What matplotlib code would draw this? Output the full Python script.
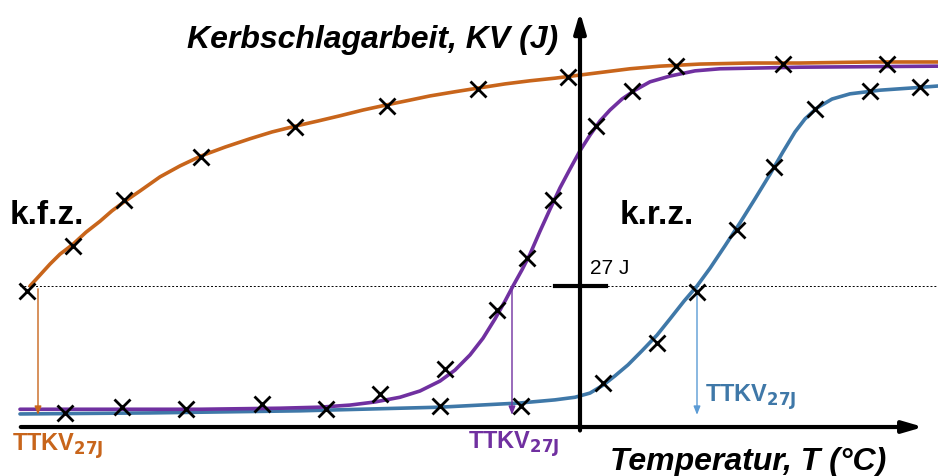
import numpy as np
import matplotlib
matplotlib.use("Agg")
import matplotlib.pyplot as plt

plt.rcParams['font.family'] = ['Liberation Sans', 'DejaVu Sans']
plt.rcParams['mathtext.fontset'] = 'custom'
plt.rcParams['mathtext.rm'] = 'Liberation Sans Narrow'
plt.rcParams['mathtext.bf'] = 'Liberation Sans Narrow:bold'

# measured points (T in deg C, KV in J)
kfz_T = [-276.5, -253.5, -228, -189.5, -142.5, -96.5, -51, -6, 48, 101.5, 153.5]
kfz_KV = [26.0, 34.7, 43.5, 51.7, 57.4, 61.5, 64.7, 67.0, 69.1, 69.5, 69.5]
mid_T = [-257.5, -229, -197, -159, -127, -100, -67.5, -41.5, -26.5, -13.5, 8, 26]
mid_KV = [2.7, 3.8, 3.4, 4.4, 3.4, 6.3, 11.1, 22.4, 32.4, 43.5, 57.6, 64.3]
krz_T = [-70, -29.5, 11.5, 38.5, 58.5, 78.5, 97, 117.5, 145, 170]
krz_KV = [4.0, 4.0, 8.4, 16.1, 25.9, 37.7, 49.8, 60.9, 64.3, 65.1]

# fitted curves
kfz_curve_T = [-275, -270, -265, -260, -253.5, -247, -240, -234, -228, -220, -210, -200,
               -189.5, -177.5, -165, -154, -142.5, -131, -120, -108.5, -96.5, -85, -75,
               -62.5, -51, -37.5, -25, -12.5, 0, 12.5, 25, 40, 60, 85, 110, 145, 179]
kfz_curve_KV = [27.0, 29.1, 31.2, 33.1, 35.0, 37.3, 39.4, 41.4, 43.1, 45.2, 47.9, 50.0,
                51.9, 53.6, 55.2, 56.5, 57.6, 58.6, 59.6, 60.7, 61.7, 62.6, 63.4,
                64.2, 64.9, 65.7, 66.3, 66.8, 67.4, 68.0, 68.6, 69.1, 69.5, 69.7, 69.7, 69.9, 69.9]
mid_curve_T = [-280, -240, -190, -150, -130, -115, -102.5, -90, -80, -70, -62.5, -55,
               -48.5, -42.5, -37.5, -33.5, -29, -25, -20, -15, -10, -5, 0, 5, 10, 15,
               21, 27.5, 35, 45, 57.5, 70, 110, 179]
mid_curve_KV = [3.4, 3.4, 3.4, 3.6, 3.8, 4.2, 4.8, 5.7, 6.9, 8.8, 10.9, 13.8,
                17.0, 20.7, 24.1, 27.0, 30.1, 33.1, 37.5, 41.7, 45.8, 49.4, 52.9, 55.9, 58.6, 60.7,
                62.8, 64.5, 66.1, 67.2, 68.2, 68.6, 68.9, 69.1]
krz_curve_T = [-280, -215, -140, -70, -30, -12.5, -2.5, 5, 11.5, 17.5, 24, 31, 38.5, 45,
               52, 58.5, 65, 72.5, 80, 87.5, 95, 101.5, 107.5, 112.5, 118.5, 126, 135,
               150, 165, 179]
krz_curve_KV = [2.5, 2.7, 3.1, 3.8, 4.6, 5.2, 5.7, 6.5, 8.0, 9.8, 11.9, 14.6, 17.6, 20.7,
                24.1, 27.0, 30.4, 34.7, 39.1, 43.7, 48.4, 52.7, 56.5, 59.0, 61.1, 62.8, 63.8,
                64.5, 64.9, 65.3]

kv_ref = 27
tt_kfz, tt_mid, tt_krz = -271, -34, 58.5

c_or = '#C8651B'
c_pu = '#7030A0'
c_bl = '#3F78A8'
c_bl_arrow = '#5B9BD5'

fig = plt.figure(figsize=(9.38, 4.77), dpi=100)
ax = fig.add_axes([0, 0, 1, 1])
ax.set_xlim(-290, 179)
ax.set_ylim(-9.38, 81.96)
ax.axis('off')

# 27 J reference line
ax.plot([-280, 179], [kv_ref, kv_ref], color='black', lw=0.7, ls=(0, (2, 2)))

for T, KV, c in [(krz_curve_T, krz_curve_KV, c_bl), (mid_curve_T, mid_curve_KV, c_pu),
                 (kfz_curve_T, kfz_curve_KV, c_or)]:
    ax.plot(T, KV, color=c, lw=2.6, zorder=3, solid_joinstyle='round', solid_capstyle='round')

for T, KV in [(kfz_T, kfz_KV), (mid_T, mid_KV), (krz_T, krz_KV)]:
    ax.plot(T, KV, ls='none', marker='x', ms=11, mew=2, color='black', zorder=4)

# axes arrows
ax.annotate('', xy=(173, 0), xytext=(-281, 0),
            arrowprops=dict(arrowstyle='-|>,head_length=1.2,head_width=0.35', color='black', lw=3))
ax.annotate('', xy=(0, 80), xytext=(0, -1.2),
            arrowprops=dict(arrowstyle='-|>,head_length=1.2,head_width=0.35', color='black', lw=3))
ax.plot([-12.5, 13], [kv_ref, kv_ref], color='black', lw=3)

# TTKV arrows
for t, c in [(tt_kfz, c_or), (tt_mid, c_pu), (tt_krz, c_bl_arrow)]:
    ax.annotate('', xy=(t, 1.8), xytext=(t, kv_ref),
                arrowprops=dict(arrowstyle='-|>,head_length=0.5,head_width=0.2', color=c, lw=1))

ax.text(-11, 74.3, 'Kerbschlagarbeit, KV (J)', fontsize=23, fontweight='bold',
        fontstyle='italic', ha='right', va='center')
ax.text(15, -6.6, 'Temperatur, T (°C)', fontsize=23, fontweight='bold',
        fontstyle='italic', ha='left', va='center')
ax.text(-285, 40.6, 'k.f.z.', fontsize=24, fontweight='bold', ha='left', va='center')
ax.text(20, 40.6, 'k.r.z.', fontsize=24, fontweight='bold', ha='left', va='center')
ax.text(5, 30.6, '27 J', fontsize=15, ha='left', va='center')

tt = r'TTKV$_{\mathbf{27J}}$'
narrow = ['Liberation Sans Narrow', 'Liberation Sans']
ax.text(-284, -3.4, tt, fontsize=17, fontweight='bold', family=narrow, color=c_or,
        ha='left', va='center')
ax.text(-56, -3.1, tt, fontsize=17, fontweight='bold', family=narrow, color=c_pu,
        ha='left', va='center')
ax.text(62.5, 5.9, tt, fontsize=17, fontweight='bold', family=narrow, color=c_bl,
        ha='left', va='center')

fig.savefig('out.png', dpi=100)
